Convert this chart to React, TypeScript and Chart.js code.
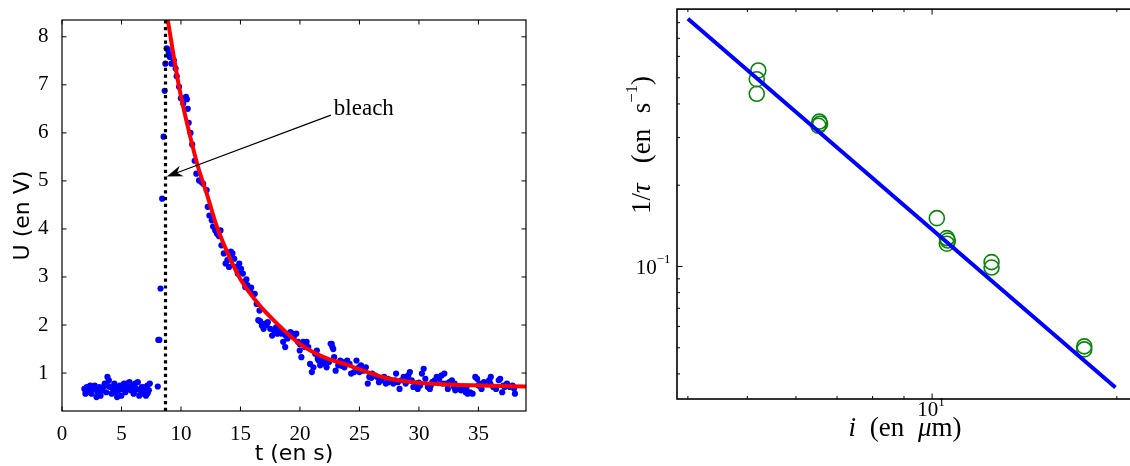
import React, { useEffect, useRef } from 'react';
import { Chart, registerables } from 'chart.js';

Chart.register(...registerables);

// ---------------- Left panel: fluorescence signal ----------------
const T_DATA = [
  1.88, 1.97, 2.08, 2.26, 2.37, 2.49, 2.61, 2.75, 2.9, 3.01, 3.13, 3.24, 3.36, 3.47, 3.59, 3.71,
  3.82, 3.94, 4.05, 4.17, 4.28, 4.4, 4.52, 4.63, 4.75, 4.86, 4.98, 5.1, 5.21, 5.33, 5.44, 5.56,
  5.67, 5.79, 5.9, 6.02, 6.14, 6.25, 6.37, 6.49, 6.6, 6.72, 6.83, 6.95, 7.06, 7.18, 7.3, 7.38,
  8.05, 8.1, 8.18, 8.28, 8.42, 8.54, 8.63, 8.69, 8.8, 8.89, 8.97, 9.06, 9.2, 9.4, 9.55, 9.64,
  9.84, 9.99, 10.19, 10.42, 10.5, 10.57, 10.65, 10.8, 10.94, 11.15, 11.29, 11.52, 11.72, 11.87,
  12.16, 12.25, 12.39, 12.59, 12.88, 13.03, 13.32, 13.4, 13.6, 13.75, 13.9, 14.04, 14.19, 14.33,
  14.48, 14.62, 14.77, 14.9, 15.05, 15.2, 15.34, 15.4, 15.58, 15.78, 16.07, 16.2, 16.36, 16.5,
  16.65, 16.8, 16.94, 17.08, 17.3, 17.5, 17.66, 17.8, 17.95, 18.1, 18.3, 18.47, 18.59, 18.76,
  18.96, 19.1, 19.34, 19.48, 19.69, 19.83, 19.98, 20.12, 20.27, 20.4, 20.56, 20.7, 20.85, 21.0,
  21.13, 21.28, 21.42, 21.57, 21.7, 21.86, 22.06, 22.24, 22.44, 22.58, 22.73, 22.87, 23.0, 23.22,
  23.39, 23.6, 23.74, 23.97, 24.17, 24.3, 24.55, 24.75, 24.96, 25.13, 25.33, 25.54, 25.7, 25.83,
  26.06, 26.29, 26.5, 26.64, 26.87, 27.07, 27.22, 27.45, 27.65, 27.85, 28.08, 28.23, 28.37, 28.52,
  28.72, 28.89, 29.1, 29.24, 29.39, 29.53, 29.76, 29.9, 30.1, 30.25, 30.4, 30.54, 30.75, 30.92,
  31.12, 31.33, 31.5, 31.7, 31.9, 32.14, 32.28, 32.43, 32.57, 32.77, 32.95, 33.06, 33.3, 33.53,
  33.73, 33.93, 34.1, 34.3, 34.51, 34.74, 34.89, 35.09, 35.26, 35.47, 35.67, 35.9, 36.04, 36.25,
  36.48, 36.71, 36.83, 37.0, 37.2, 37.4, 37.64, 37.87, 38.07,
  12.7, 13.2, 14.1, 15.5, 15.9, 16.6, 17.2, 18.0, 18.8, 19.2, 20.0, 21.5, 22.0, 22.67, 22.8,
  23.5, 24.0, 25.0, 26.0, 27.4, 28.0, 29.0, 30.0, 31.0, 32.0, 33.0, 34.0, 35.0, 36.0, 37.1, 38.0,
  2.2, 3.0, 3.9, 4.6, 5.4, 6.1, 6.9, 7.2,
];
const U_DATA = [
  0.67, 0.57, 0.71, 0.64, 0.74, 0.57, 0.67, 0.74, 0.5, 0.6, 0.71, 0.53, 0.64, 0.71, 0.78, 0.6,
  0.92, 0.85, 0.71, 0.57, 0.67, 0.78, 0.6, 0.5, 0.64, 0.74, 0.53, 0.67, 0.78, 0.6, 0.78, 0.71,
  0.81, 0.64, 0.74, 0.57, 0.78, 0.67, 0.81, 0.53, 0.64, 0.71, 0.57, 0.64, 0.53, 0.74, 0.64, 0.78,
  0.72, 1.69, 1.69, 2.76, 4.63, 5.92, 6.875, 7.44, 7.76, 7.74, 7.65, 7.58, 7.44, 7.51, 7.34, 7.18,
  6.96, 6.72, 6.61, 6.75, 6.7, 6.5, 6.21, 6.0, 5.76, 5.42, 5.15, 5.01, 4.98, 4.94,
  4.81, 4.46, 4.28, 4.18, 3.97, 3.9, 3.97, 3.66, 3.49, 3.28, 3.35, 3.21, 3.53, 3.49,
  3.38, 3.21, 3.07, 3.28, 3.17, 3.07, 2.9, 2.79, 2.83, 2.72, 2.65, 2.65, 2.44, 2.1,
  2.08, 1.99, 1.92, 2.03, 2.06, 1.92, 1.78, 1.89, 1.92, 1.82, 1.92, 1.82, 1.65, 1.54,
  1.72, 1.82, 1.82, 1.75, 1.82, 1.65, 1.47, 1.33, 1.65, 1.54, 1.65, 1.54, 1.19, 1.02,
  1.12, 1.4, 1.47, 1.26, 1.16, 1.3, 1.26, 1.12, 1.23, 1.61, 1.54, 1.33, 1.05, 1.16,
  1.26, 1.23, 1.12, 1.26, 1.19, 0.99, 1.02, 1.26, 1.12, 1.16, 1.05, 1.12, 0.78, 0.92,
  0.99, 0.95, 0.92, 0.81, 0.85, 0.92, 0.78, 0.81, 0.85, 0.78, 0.99, 0.81, 0.67, 0.85,
  0.92, 0.78, 0.95, 1.02, 0.85, 0.71, 0.78, 0.67, 0.74, 0.99, 1.09, 0.88, 0.71, 0.67,
  0.81, 0.85, 0.92, 0.88, 0.95, 0.99, 0.78, 0.67, 0.81, 0.85, 0.71, 0.64, 0.67, 0.64,
  0.71, 0.6, 0.57, 0.6, 0.57, 0.92, 0.88, 0.78, 0.67, 0.81, 0.78, 0.85, 0.92, 0.71,
  0.67, 0.85, 0.88, 0.6, 0.71, 0.78, 0.71, 0.74, 0.57,
  4.05, 3.85, 3.4, 2.95, 2.78, 2.3, 2.0, 1.95, 1.78, 1.85, 1.6, 1.3, 1.2, 1.61, 1.5,
  1.15, 1.2, 1.02, 0.9, 0.88, 0.85, 0.85, 0.8, 0.74, 0.78, 0.78, 0.7, 0.74, 0.78, 0.74, 0.68,
  0.6, 0.66, 0.73, 0.69, 0.71, 0.62, 0.7, 0.58,
];
const FIT_T = [8.89, 9.84, 10.71, 11.44, 12.16, 13.03, 14.19, 15.05, 16.5, 17.95, 19.98, 22.3, 23.74, 25.19, 27.5, 29.53, 32.43, 35.3, 39];
const FIT_U = [8.35, 6.96, 5.99, 5.29, 4.74, 4.04, 3.35, 2.93, 2.44, 2.06, 1.61, 1.3, 1.19, 1.06, 0.88, 0.81, 0.76, 0.74, 0.72];
const BLEACH_T = 8.7;
const LEFT_X_MIN = 0;
const LEFT_X_MAX = 39;
const LEFT_Y_MIN = 0.21;
const LEFT_Y_MAX = 8.35;
const LEFT_X_TICKS = [0, 5, 10, 15, 20, 25, 30, 35];
const LEFT_Y_TICKS = [1, 2, 3, 4, 5, 6, 7, 8];
const ARROW_FROM = [22.6, 6.37];
const ARROW_TO = [8.8, 5.09];
const LABEL_AT = [22.85, 6.37];
const LABEL_TEXT = 'bleach';

// ---------------- Right panel: 1/tau vs distance ----------------
const DIST = [5.21, 5.18, 5.18, 6.55, 6.57, 6.53, 10.18, 10.57, 10.61, 10.57, 12.5, 12.5, 17.7, 17.7];
const RATE = [0.532, 0.494, 0.436, 0.344, 0.338, 0.332, 0.151, 0.1274, 0.1248, 0.1214, 0.1038, 0.0991, 0.0506, 0.0493];
const FIT2_X = [4.0, 10, 19.9];
const FIT2_Y = [0.827, 0.137, 0.0356];
const RIGHT_X_MIN = 3.84;
const RIGHT_X_MAX = 21.9;
const RIGHT_Y_MIN = 0.0323;
const RIGHT_Y_MAX = 0.898;
const RIGHT_X_TICKS = [4, 5, 6, 7, 8, 9, 10, 20];
const RIGHT_Y_TICKS = [0.04, 0.05, 0.06, 0.07, 0.08, 0.09, 0.1, 0.2, 0.3, 0.4, 0.5, 0.6, 0.7, 0.8];
const RIGHT_X_MAJOR = [10];
const RIGHT_Y_MAJOR = [0.1];
const RIGHT_X_LABELS = [['10', '1']];
const RIGHT_Y_LABELS = [['10', '\u22121']];

type Seg = { t?: string; it?: boolean; sup?: boolean; gap?: number };
const SERIF = '"Liberation Serif", "DejaVu Serif", serif';

function segFont(size: number, s: Seg) {
  const sz = s.sup ? size * 0.62 : size;
  return `${s.it ? 'italic ' : ''}${sz}px ${SERIF}`;
}

function drawRich(ctx: CanvasRenderingContext2D, segs: Seg[], x: number, y: number, size: number, align: string, target?: number) {
  const widths = segs.map((s) => {
    if (s.t === undefined) return s.gap || 0;
    ctx.font = segFont(size, s);
    return ctx.measureText(s.t).width;
  });
  let total = widths.reduce((a, b) => a + b, 0);
  if (target) {
    const gapSum = segs.reduce((a, s) => a + (s.t === undefined ? s.gap || 0 : 0), 0);
    const glyphs = total - gapSum;
    if (gapSum > 0) {
      const f = Math.max(0, target - glyphs) / gapSum;
      segs.forEach((s, i) => { if (s.t === undefined) widths[i] = (s.gap || 0) * f; });
      total = widths.reduce((a, b) => a + b, 0);
    }
  }
  let cx = align === 'center' ? x - total / 2 : align === 'right' ? x - total : x;
  ctx.textAlign = 'left';
  ctx.textBaseline = 'alphabetic';
  segs.forEach((s, i) => {
    if (s.t !== undefined) {
      ctx.font = segFont(size, s);
      ctx.fillText(s.t, cx, s.sup ? y - size * 0.5 : y);
    }
    cx += widths[i];
  });
}

const leftDecor = {
  id: 'leftDecor',
  afterDatasetsDraw(chart: any) {
    const { ctx, chartArea: ca, scales } = chart;
    const xs = scales.x;
    const ys = scales.y;
    ctx.save();
    ctx.strokeStyle = '#000';
    ctx.lineWidth = 1.2;
    ctx.strokeRect(ca.left, ca.top, ca.right - ca.left, ca.bottom - ca.top);
    ctx.lineWidth = 1;
    const L = 4.5;
    ctx.beginPath();
    xs.ticks.forEach((t: any) => {
      const p = xs.getPixelForValue(t.value);
      ctx.moveTo(p, ca.bottom); ctx.lineTo(p, ca.bottom - L);
      ctx.moveTo(p, ca.top); ctx.lineTo(p, ca.top + L);
    });
    ys.ticks.forEach((t: any) => {
      const p = ys.getPixelForValue(t.value);
      ctx.moveTo(ca.left, p); ctx.lineTo(ca.left + L, p);
      ctx.moveTo(ca.right, p); ctx.lineTo(ca.right - L, p);
    });
    ctx.stroke();

    // arrow
    const x1 = xs.getPixelForValue(ARROW_FROM[0]);
    const y1 = ys.getPixelForValue(ARROW_FROM[1]);
    const x2 = xs.getPixelForValue(ARROW_TO[0]);
    const y2 = ys.getPixelForValue(ARROW_TO[1]);
    const a = Math.atan2(y2 - y1, x2 - x1);
    const c = Math.cos(a), s = Math.sin(a);
    const len = 16, half = 5.5, notch = 11;
    ctx.strokeStyle = '#000';
    ctx.fillStyle = '#000';
    ctx.lineWidth = 1.3;
    ctx.beginPath();
    ctx.moveTo(x1, y1);
    ctx.lineTo(x2 - notch * c, y2 - notch * s);
    ctx.stroke();
    ctx.beginPath();
    ctx.moveTo(x2, y2);
    ctx.lineTo(x2 - len * c + half * s, y2 - len * s - half * c);
    ctx.lineTo(x2 - notch * c, y2 - notch * s);
    ctx.lineTo(x2 - len * c - half * s, y2 - len * s + half * c);
    ctx.closePath();
    ctx.fill();

    ctx.font = `23px ${SERIF}`;
    ctx.textAlign = 'left';
    ctx.textBaseline = 'alphabetic';
    ctx.fillText(LABEL_TEXT, xs.getPixelForValue(LABEL_AT[0]), ys.getPixelForValue(LABEL_AT[1]));
    ctx.restore();
  },
};

const rightDecor = {
  id: 'rightDecor',
  afterDraw(chart: any) {
    const { ctx, chartArea: ca, scales } = chart;
    const xs = scales.x;
    const ys = scales.y;
    ctx.save();
    ctx.strokeStyle = '#000';
    ctx.lineWidth = 1.6;
    ctx.strokeRect(ca.left, ca.top, ca.right - ca.left, ca.bottom - ca.top);
    ctx.lineWidth = 1;
    ctx.beginPath();
    xs.ticks.forEach((t: any) => {
      const p = xs.getPixelForValue(t.value);
      const L = RIGHT_X_MAJOR.includes(t.value) ? 5.5 : 3;
      ctx.moveTo(p, ca.bottom); ctx.lineTo(p, ca.bottom - L);
      ctx.moveTo(p, ca.top); ctx.lineTo(p, ca.top + L);
    });
    ys.ticks.forEach((t: any) => {
      const p = ys.getPixelForValue(t.value);
      const L = RIGHT_Y_MAJOR.includes(t.value) ? 5.5 : 3;
      ctx.moveTo(ca.left, p); ctx.lineTo(ca.left + L, p);
      ctx.moveTo(ca.right, p); ctx.lineTo(ca.right - L, p);
    });
    ctx.stroke();

    ctx.fillStyle = '#000';
    RIGHT_Y_MAJOR.forEach((v, i) => {
      const [b, e] = RIGHT_Y_LABELS[i];
      drawRich(ctx, [{ t: b }, { t: e, sup: true }], ca.left - 6.5, ys.getPixelForValue(v) + 7.5, 21, 'right');
    });
    RIGHT_X_MAJOR.forEach((v, i) => {
      const [b, e] = RIGHT_X_LABELS[i];
      drawRich(ctx, [{ t: b }, { t: e, sup: true }], xs.getPixelForValue(v) - 1, ca.bottom + 17, 21, 'center');
    });

    // x title
    drawRich(
      ctx,
      [{ t: 'i', it: true }, { gap: 1 }, { t: '(en' }, { gap: 1 }, { t: '\u03bc', it: true }, { t: 'm)' }],
      (ca.left + ca.right) / 2 - 4,
      ca.bottom + 37,
      27,
      'center',
      113,
    );
    // y title (rotated)
    ctx.save();
    ctx.translate(ca.left - 27, 145);
    ctx.rotate(-Math.PI / 2);
    drawRich(
      ctx,
      [{ t: '1/' }, { t: '\u03c4', it: true }, { gap: 1.3 }, { t: '(en' }, { gap: 1 }, { t: 's' }, { t: '\u22121', sup: true }, { t: ')' }],
      0,
      0,
      27,
      'center',
      138,
    );
    ctx.restore();
    ctx.restore();
  },
};

export default function App() {
  const leftRef = useRef<HTMLCanvasElement>(null);
  const rightRef = useRef<HTMLCanvasElement>(null);

  useEffect(() => {
    const pts = T_DATA.map((t, i) => ({ x: t, y: U_DATA[i] }));
    const fit = FIT_T.map((t, i) => ({ x: t, y: FIT_U[i] }));
    const vline = [{ x: BLEACH_T, y: LEFT_Y_MIN }, { x: BLEACH_T, y: LEFT_Y_MAX }];

    const left = new Chart(leftRef.current as HTMLCanvasElement, {
      type: 'scatter',
      data: {
        datasets: [
          { data: vline, showLine: true, borderColor: '#000', borderWidth: 3.2, borderDash: [3.2, 3.6], pointRadius: 0 } as any,
          { data: fit, showLine: true, borderColor: '#ff0000', borderWidth: 4, pointRadius: 0, cubicInterpolationMode: 'monotone' } as any,
          { data: pts, pointRadius: 3.1, backgroundColor: '#0000ff', borderColor: '#0000ff', pointBorderWidth: 0 } as any,
        ],
      },
      options: {
        animation: false,
        responsive: false,
        maintainAspectRatio: false,
        events: [],
        layout: { padding: { left: 0, top: 20, right: 19, bottom: 0 } },
        plugins: { legend: { display: false }, tooltip: { enabled: false } },
        scales: {
          x: {
            type: 'linear',
            min: LEFT_X_MIN,
            max: LEFT_X_MAX,
            grid: { display: false },
            border: { display: false },
            ticks: { font: { family: SERIF, size: 21 }, color: '#000', padding: 3, maxRotation: 0, autoSkip: false },
            afterBuildTicks: (s: any) => { s.ticks = LEFT_X_TICKS.map((v) => ({ value: v })); },
            afterFit: (s: any) => { s.height = 55; },
            title: { display: true, text: 't (en s)', color: '#000', font: { family: '"DejaVu Sans", sans-serif', size: 22, lineHeight: 1 }, padding: { top: 0, bottom: 1 } },
          },
          y: {
            type: 'linear',
            min: LEFT_Y_MIN,
            max: LEFT_Y_MAX,
            grid: { display: false },
            border: { display: false },
            ticks: { font: { family: SERIF, size: 21 }, color: '#000', padding: 5.5, autoSkip: false },
            afterBuildTicks: (s: any) => { s.ticks = LEFT_Y_TICKS.map((v) => ({ value: v })); },
            afterFit: (s: any) => { s.width = 62; },
            title: { display: true, text: 'U (en V)', color: '#000', font: { family: '"DejaVu Sans", sans-serif', size: 22 }, padding: { top: 10, bottom: 0 } },
          },
        },
      } as any,
      plugins: [leftDecor],
    });

    const circles = DIST.map((d, i) => ({ x: d, y: RATE[i] }));
    const fit2 = FIT2_X.map((d, i) => ({ x: d, y: FIT2_Y[i] }));
    const right = new Chart(rightRef.current as HTMLCanvasElement, {
      type: 'scatter',
      data: {
        datasets: [
          { data: fit2, showLine: true, borderColor: '#0000ff', borderWidth: 4, pointRadius: 0 } as any,
          { data: circles, pointRadius: 7.5, pointStyle: 'circle', backgroundColor: 'rgba(0,0,0,0)', borderColor: '#0a850a', pointBorderWidth: 1.6 } as any,
        ],
      },
      options: {
        animation: false,
        responsive: false,
        maintainAspectRatio: false,
        events: [],
        layout: { padding: { left: 0, top: 9, right: 19, bottom: 0 } },
        plugins: { legend: { display: false }, tooltip: { enabled: false } },
        scales: {
          x: {
            type: 'logarithmic',
            min: RIGHT_X_MIN,
            max: RIGHT_X_MAX,
            grid: { display: false },
            border: { display: false },
            ticks: { display: false },
            afterBuildTicks: (s: any) => { s.ticks = RIGHT_X_TICKS.map((v) => ({ value: v })); },
            afterFit: (s: any) => { s.height = 67; },
          },
          y: {
            type: 'logarithmic',
            min: RIGHT_Y_MIN,
            max: RIGHT_Y_MAX,
            grid: { display: false },
            border: { display: false },
            ticks: { display: false },
            afterBuildTicks: (s: any) => { s.ticks = RIGHT_Y_TICKS.map((v) => ({ value: v })); },
            afterFit: (s: any) => { s.width = 117; },
          },
        },
      } as any,
      plugins: [rightDecor],
    });

    return () => {
      left.destroy();
      right.destroy();
    };
  }, []);

  return (
    <div style={{ position: 'fixed', left: 0, top: 0, width: 1130, height: 466, overflow: 'hidden', background: '#fff' }}>
      <canvas ref={leftRef} width={545} height={466} style={{ position: 'absolute', left: 0, top: 0, width: 545, height: 466 }} />
      <canvas ref={rightRef} width={600} height={466} style={{ position: 'absolute', left: 560, top: 0, width: 600, height: 466 }} />
    </div>
  );
}
